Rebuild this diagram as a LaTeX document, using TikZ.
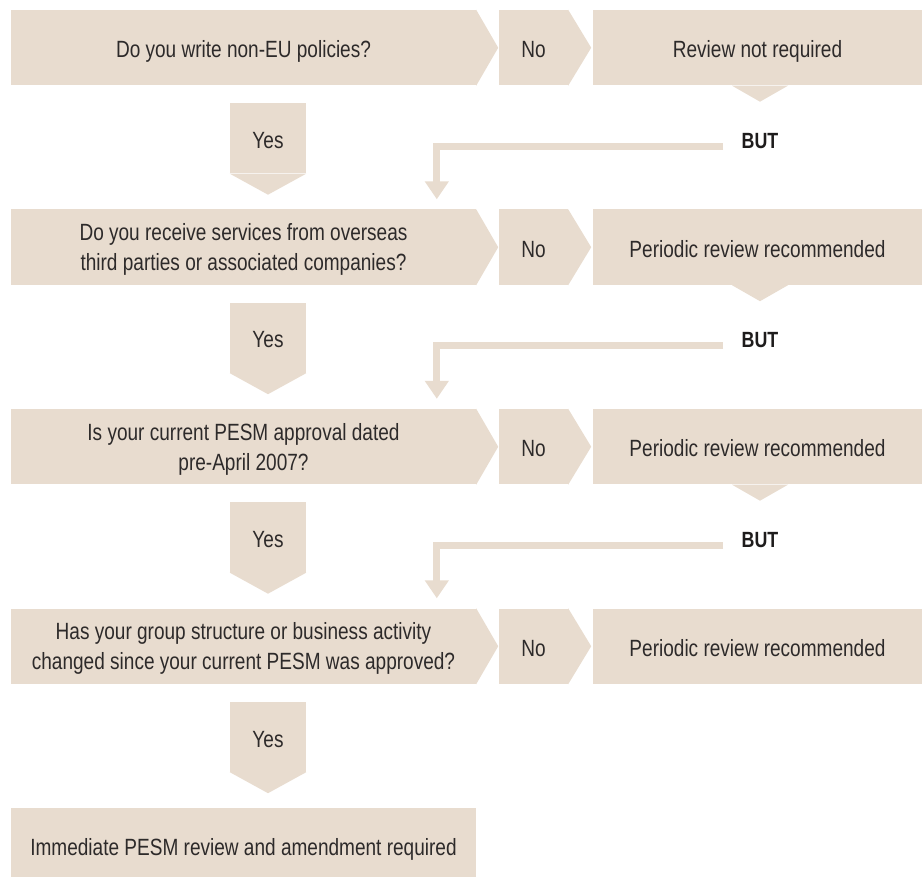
\documentclass[tikz,border=0pt]{standalone}
\usepackage{fontspec}
\setmainfont{Liberation Sans}[FakeStretch=0.81]
\usetikzlibrary{arrows.meta,calc}
\definecolor{beige}{RGB}{232,220,207}
\definecolor{txt}{RGB}{45,42,42}
\definecolor{butc}{RGB}{30,28,28}
\tikzset{
  box/.style={rectangle, fill=beige, inner sep=0pt, text=txt, align=center,
    font=\fontsize{23.5}{30}\selectfont, minimum height=75.5pt},
  one/.style={text height=20pt, text depth=0pt},
  two/.style={text depth=0pt},
  qbox/.style={box, minimum width=465pt},
  nobox/.style={box, one, minimum width=69pt},
  revbox/.style={box, one, minimum width=329pt},
  yesbox/.style={box, one, minimum width=76pt, minimum height=70pt},
  butlbl/.style={inner sep=0pt, text=butc, font=\fontsize{22}{26}\selectfont\bfseries},
  butarrow/.style={draw=beige, line width=7pt, line join=miter,
    -{Triangle[width=23pt,length=18pt]}},
}
\begin{document}
\begin{tikzpicture}[x=1pt,y=-1pt]
\clip (0,0) rectangle (922,877);
\fill[white] (0,0) rectangle (922,877);

% ---- Row 1
\node[qbox, one] (q1) at (243.5,47.75) {Do you write non-EU policies?};
\node[nobox] (n1) at (533.5,47.75) {No};
\node[revbox] (r1) at (757.5,47.75) {Review not required};
% ---- Row 2
\node[qbox, two] (q2) at (243.5,247.25) {Do you receive services from overseas\\third parties or associated companies?};
\node[nobox] (n2) at (533.5,247.25) {No};
\node[revbox] (r2) at (757.5,247.25) {Periodic review recommended};
% ---- Row 3
\node[qbox, two] (q3) at (243.5,446.75) {Is your current PESM approval dated\\pre-April 2007?};
\node[nobox] (n3) at (533.5,446.75) {No};
\node[revbox] (r3) at (757.5,446.75) {Periodic review recommended};
% ---- Row 4
\node[qbox, two] (q4) at (243.5,646.25) {Has your group structure or business activity\\changed since your current PESM was approved?};
\node[nobox] (n4) at (533.5,646.25) {No};
\node[revbox] (r4) at (757.5,646.25) {Periodic review recommended};
% ---- Final
\node[qbox, one] (f) at (243.5,845.75) {Immediate PESM review and amendment required};

% chevron tips
\foreach \i in {1,2,3,4}{
  \fill[beige] (q\i.north east) -- ($(q\i.east)+(22,0)$) -- (q\i.south east) -- cycle;
  \fill[beige] (n\i.north east) -- ($(n\i.east)+(23,0)$) -- (n\i.south east) -- cycle;
}
% downward notches under review boxes
\foreach \i in {1,2,3}{
  \fill[beige] ($(r\i.south)+(-25.5,0)$) -- ($(r\i.south)+(2.5,16)$) -- ($(r\i.south)+(30.5,0)$) -- cycle;
}

% Yes arrows
\node[yesbox] (y1) at (268,138.5) {Yes};
\node[yesbox] (y2) at (268,338) {Yes};
\node[yesbox] (y3) at (268,537.5) {Yes};
\node[yesbox] (y4) at (268,737) {Yes};
\foreach \i in {1,2,3,4}{
  \fill[beige] (y\i.south west) -- ($(y\i.south)+(0,21)$) -- (y\i.south east) -- cycle;
}

% BUT connectors
\node[butlbl] (b1) at (760,141) {BUT};
\node[butlbl] (b2) at (760,340.5) {BUT};
\node[butlbl] (b3) at (760,540) {BUT};
\coordinate (s1) at (723,146.5);
\coordinate (s2) at (723,346);
\coordinate (s3) at (723,545.5);
\draw[butarrow] (s1) -| ($(q2.north west)+(426,-10)$);
\draw[butarrow] (s2) -| ($(q3.north west)+(426,-10)$);
\draw[butarrow] (s3) -| ($(q4.north west)+(426,-10)$);
\end{tikzpicture}
\end{document}
